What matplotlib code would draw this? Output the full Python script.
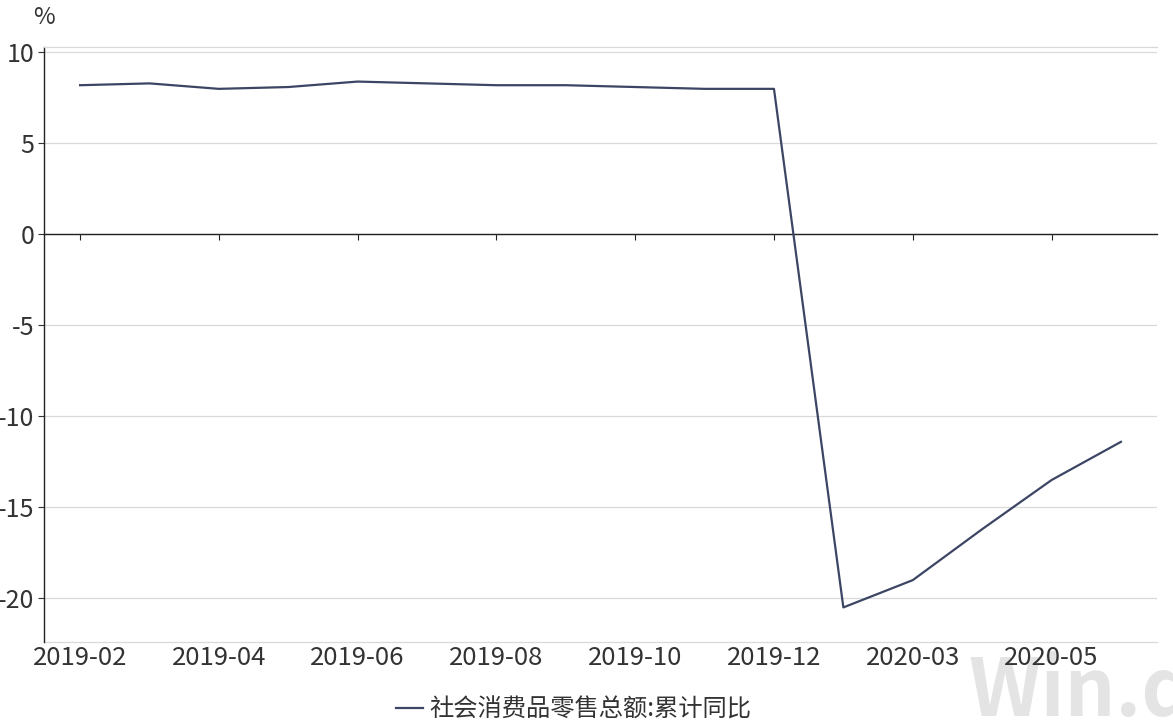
import matplotlib.pyplot as plt

plt.rcParams['font.family'] = ['Noto Sans CJK SC', 'DejaVu Sans']
plt.rcParams['axes.unicode_minus'] = False

# data: 社会消费品零售总额 累计同比 (%)
months = ['2019-02', '2019-03', '2019-04', '2019-05', '2019-06', '2019-07',
          '2019-08', '2019-09', '2019-10', '2019-11', '2019-12',
          '2020-02', '2020-03', '2020-04', '2020-05', '2020-06']
values = [8.2, 8.3, 8.0, 8.1, 8.4, 8.3, 8.2, 8.2, 8.1, 8.0, 8.0,
          -20.5, -19.0, -16.2, -13.5, -11.4]
label_idx = [0, 2, 4, 6, 8, 10, 12, 14]
yticks = [10, 5, 0, -5, -10, -15, -20]
series_name = '社会消费品零售总额:累计同比'

line_color = '#3c4664'
text_color = '#333333'
grid_color = '#d9d9d9'

fig = plt.figure(figsize=(11.73, 7.24), dpi=100)

# watermark, behind everything
fig.text(968 / 1173, 8 / 724, 'Win.d', fontsize=57, fontweight='bold',
         color='#e4e4e4', ha='left', va='baseline', zorder=0)

ax = fig.add_axes([44 / 1173, 1 - 642 / 724, (1157 - 44) / 1173, (642 - 47) / 724])
ax.set_zorder(2)
ax.patch.set_alpha(0)

x = list(range(len(months)))
ax.plot(x, values, color=line_color, linewidth=1.6, label=series_name, zorder=3)

ax.set_xlim(-0.52, 15.52)
ax.set_ylim(-22.4, 10.3)

ax.set_yticks(yticks)
ax.set_yticklabels([str(v) for v in yticks])
ax.yaxis.grid(True, color=grid_color, linewidth=0.9)
ax.set_axisbelow(True)
ax.tick_params(axis='y', direction='out', length=4, width=0.8, colors=text_color,
               labelsize=18, pad=3)

# bottom spine sits on zero, ticks only
ax.spines['bottom'].set_position(('data', 0))
ax.spines['bottom'].set_color('#222222')
ax.spines['bottom'].set_linewidth(1.0)
ax.set_xticks(label_idx)
ax.tick_params(axis='x', direction='out', length=4, width=0.8, colors='#222222',
               labelbottom=False)
ax.spines['left'].set_color('#222222')
ax.spines['left'].set_linewidth(1.0)
ax.spines['right'].set_visible(False)
ax.spines['top'].set_color(grid_color)
ax.spines['top'].set_linewidth(0.9)

# labels on a secondary axis along the bottom edge
sec = ax.secondary_xaxis('bottom')
sec.set_xticks(label_idx)
sec.set_xticklabels([months[i] for i in label_idx])
sec.tick_params(length=0, labelsize=18.5, colors=text_color, pad=2)
sec.spines['bottom'].set_color(grid_color)
sec.spines['bottom'].set_linewidth(0.9)

fig.text(44 / 1173, 1 - 18 / 724, '%', fontsize=17, color=text_color,
         ha='center', va='center')

leg = fig.legend(loc='center', bbox_to_anchor=(0.489, 14 / 724), frameon=False,
                 fontsize=17.5, handlelength=1.1, handletextpad=0.25,
                 labelcolor=text_color)
leg.set_zorder(3)

fig.savefig('out.png', dpi=100)
